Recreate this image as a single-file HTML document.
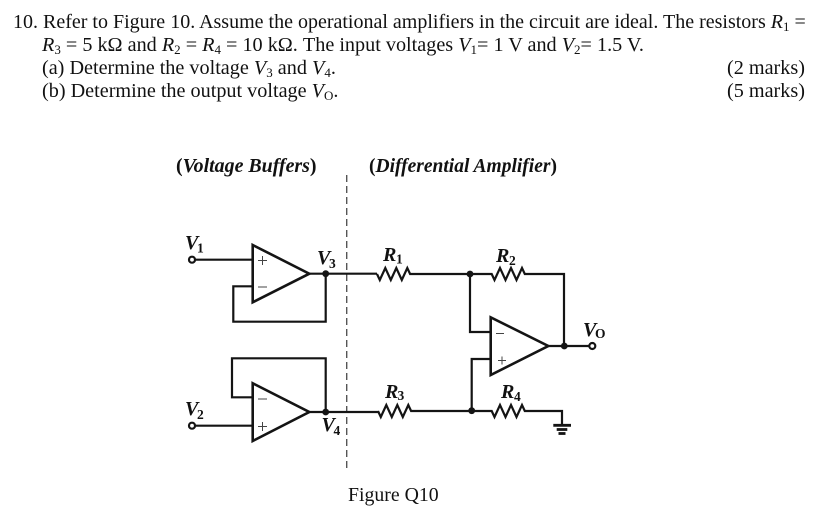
<!DOCTYPE html>
<html><head><meta charset="utf-8"><style>
html,body{margin:0;padding:0;background:#fff}
svg{display:block}
text{font-family:"Liberation Serif",serif;fill:#111}
.t{font-size:20.2px}
.t1{font-size:20px}
.s{font-size:13px}
.h{font-size:19.6px;font-weight:bold}
.l{font-size:20px;font-weight:bold;font-style:italic}
.ls{font-size:13.5px;font-weight:bold}
.i{font-style:italic}
.w{fill:none;stroke:#141414;stroke-width:2.2;stroke-linejoin:miter}
.o{fill:none;stroke:#141414;stroke-width:2.6}
</style></head><body>
<svg width="830" height="524" viewBox="0 0 830 524" xmlns="http://www.w3.org/2000/svg">
<rect width="830" height="524" fill="#fff"/>
<text class="t1" x="13" y="28">10. Refer to Figure 10. Assume the operational amplifiers in the circuit are ideal. The resistors <tspan class="i">R</tspan><tspan class="s" dy="3">1</tspan><tspan dy="-3"> =</tspan></text>
<text class="t" x="42" y="51"><tspan class="i">R</tspan><tspan class="s" dy="3">3</tspan><tspan dy="-3"> = 5 kΩ and </tspan><tspan class="i">R</tspan><tspan class="s" dy="3">2</tspan><tspan dy="-3"> = </tspan><tspan class="i">R</tspan><tspan class="s" dy="3">4</tspan><tspan dy="-3"> = 10 kΩ. The input voltages </tspan><tspan class="i">V</tspan><tspan class="s" dy="3">1</tspan><tspan dy="-3">= 1 V and </tspan><tspan class="i">V</tspan><tspan class="s" dy="3">2</tspan><tspan dy="-3">= 1.5 V.</tspan></text>
<text class="t" x="42" y="74">(a) Determine the voltage <tspan class="i">V</tspan><tspan class="s" dy="3">3</tspan><tspan dy="-3"> and </tspan><tspan class="i">V</tspan><tspan class="s" dy="3">4</tspan><tspan dy="-3">.</tspan></text>
<text class="t" x="42" y="97">(b) Determine the output voltage <tspan class="i">V</tspan><tspan class="s" dy="3">O</tspan><tspan dy="-3">.</tspan></text>
<text class="t" x="727" y="74">(2 marks)</text>
<text class="t" x="727" y="97">(5 marks)</text>

<text class="h" x="176" y="172" style="font-size:19.9px">(<tspan class="i">Voltage Buffers</tspan>)</text>
<text class="h" x="369" y="172" style="font-size:19.5px">(<tspan class="i">Differential Amplifier</tspan>)</text>

<line x1="346.7" y1="175" x2="346.7" y2="472" stroke="#555" stroke-width="1.4" stroke-dasharray="7 4"/>

<!-- top buffer -->
<path class="o" d="M252.7 245 V302.3 L309.3 273.7 Z"/>
<path class="w" d="M195 259.7 H252.7 M252.7 286.3 H233.3 V321.7 H325.7 V273.7 M309.3 273.7 H377"/>
<circle cx="192" cy="259.7" r="3" fill="#fff" stroke="#141414" stroke-width="2.2"/>
<circle cx="325.7" cy="273.7" r="3.4" fill="#141414"/>
<path d="M258 260.5h9M262.5 256v9M258 287h9" stroke="#444" stroke-width="1" fill="none"/>

<!-- bottom buffer -->
<path class="o" d="M252.7 383.3 V441 L309.3 412 Z"/>
<path class="w" d="M195 425.7 H252.7 M252.7 397.3 H232 V358.3 H325.7 V412 M309.3 412 H378"/>
<circle cx="192" cy="425.7" r="3" fill="#fff" stroke="#141414" stroke-width="2.2"/>
<circle cx="325.7" cy="412" r="3.4" fill="#141414"/>
<path d="M258 426.5h9M262.5 422v9M258 399h9" stroke="#444" stroke-width="1" fill="none"/>

<!-- differential -->
<path class="o" d="M490.7 317.3 V375 L548.3 346 Z"/>
<path class="w" d="M377 274 l2.8 6 5.5 -12 5.5 12 5.5 -12 5.5 12 5.5 -12 2.8 6 H491.7 l2.8 6 5.5 -12 5.5 12 5.5 -12 5.5 12 5.5 -12 2.8 6 H564 V346 M470 274 V332 H490.7 M490.7 359 H471.7 V410.7 M548.3 346 H590"/>
<path class="w" d="M378 411 l2.8 6 5.5 -12 5.5 12 5.5 -12 5.5 12 5.5 -12 2.8 6 H491.7 l2.8 6 5.5 -12 5.5 12 5.5 -12 5.5 12 5.5 -12 2.8 6 H562 V425"/>
<circle cx="470" cy="274" r="3.4" fill="#141414"/>
<circle cx="471.7" cy="410.7" r="3.4" fill="#141414"/>
<circle cx="564.3" cy="346" r="3.4" fill="#141414"/>
<circle cx="592.3" cy="346" r="3" fill="#fff" stroke="#141414" stroke-width="2.2"/>
<path d="M496 333.5h8M498 360.5h8M502 356.5v8" stroke="#444" stroke-width="1" fill="none"/>
<path d="M553.3 425.3H571" stroke="#141414" stroke-width="2.8"/>
<path d="M556.7 429.5H567.3" stroke="#141414" stroke-width="2.8"/>
<path d="M558.5 433.5H565.5" stroke="#141414" stroke-width="2.8"/>

<!-- labels -->
<text class="l" x="185" y="249">V</text><text class="ls" x="197" y="252.5">1</text>
<text class="l" x="185" y="415">V</text><text class="ls" x="197" y="419">2</text>
<text class="l" x="317" y="264">V</text><text class="ls" x="329" y="268">3</text>
<text class="l" x="321.5" y="431">V</text><text class="ls" x="333.5" y="435">4</text>
<text class="l" x="383" y="261">R</text><text class="ls" x="396" y="263.5">1</text>
<text class="l" x="496" y="262">R</text><text class="ls" x="509" y="265">2</text>
<text class="l" x="385" y="398">R</text><text class="ls" x="397.5" y="400">3</text>
<text class="l" x="501" y="398">R</text><text class="ls" x="514" y="401">4</text>
<text class="l" x="583" y="336">V</text><text class="ls" x="595" y="338">O</text>

<text x="348" y="501" style="font-size:19.8px">Figure Q10</text>
</svg>
</body></html>
